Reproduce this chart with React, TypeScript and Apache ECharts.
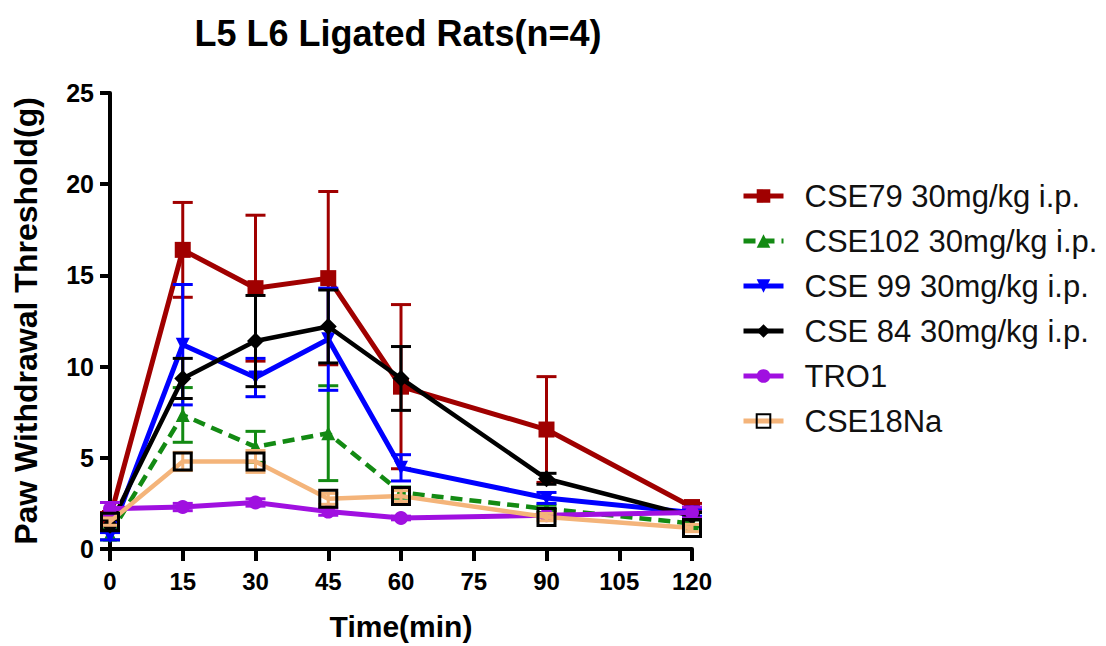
import React, { useEffect, useRef } from "react";
import * as echarts from "echarts";

const times = [0, 15, 30, 45, 60, 90, 120];
const xTicks = [0, 15, 30, 45, 60, 75, 90, 105, 120];
const yTicks = [0, 5, 10, 15, 20, 25];

const seriesNames = [
  "CSE79 30mg/kg i.p.",
  "CSE102 30mg/kg i.p.",
  "CSE 99 30mg/kg i.p.",
  "CSE 84 30mg/kg i.p.",
  "TRO1",
  "CSE18Na",
];

const cse79 = [1.7, 16.4, 14.3, 14.85, 8.9, 6.55, 2.3];
const cse79Sem = [0.3, 2.6, 4.0, 4.75, 4.5, 2.9, 0.2];
const cse102 = [0.8, 7.35, 5.6, 6.35, 3.1, 2.2, 1.4];
const cse102Sem = [0.3, 1.5, 0.85, 2.6, 0.3, 0.2, 0.2];
const cse99 = [0.7, 11.2, 9.4, 11.5, 4.45, 2.8, 2.0];
const cse99Sem = [0.2, 3.3, 1.05, 2.8, 0.72, 0.3, 0.2];
const cse84 = [1.3, 9.35, 11.4, 12.2, 9.35, 3.85, 1.8];
const cse84Sem = [0.3, 1.1, 2.5, 2.0, 1.75, 0.3, 0.2];
const tro1 = [2.2, 2.3, 2.55, 2.05, 1.7, 1.85, 2.0];
const tro1Sem = [0.35, 0.2, 0.2, 0.2, 0.1, 0.1, 0.3];
const cse18 = [1.5, 4.8, 4.8, 2.75, 2.9, 1.75, 1.15];
const cse18Sem = [0.2, 0.5, 0.6, 0.3, 0.3, 0.2, 0.2];

const FONT = '"Liberation Sans", Arial, sans-serif';

export default function App() {
  const ref = useRef<HTMLDivElement>(null);

  useEffect(() => {
    document.body.style.margin = "0";
    const chart = echarts.init(ref.current!, undefined, { renderer: "svg" });

    const defs = [
      { name: seriesNames[0], mean: cse79, sem: cse79Sem, color: "#A00000", symbol: "rect", size: 16, lw: 5, dash: "solid" as any, rotate: 0, fill: "#A00000", border: "#A00000", bw: 0 },
      { name: seriesNames[1], mean: cse102, sem: cse102Sem, color: "#138A13", symbol: "triangle", size: 14, lw: 4.5, dash: [12, 7], rotate: 0, fill: "#138A13", border: "#138A13", bw: 0 },
      { name: seriesNames[2], mean: cse99, sem: cse99Sem, color: "#0000FF", symbol: "triangle", size: 14, lw: 5, dash: "solid", rotate: 180, fill: "#0000FF", border: "#0000FF", bw: 0 },
      { name: seriesNames[3], mean: cse84, sem: cse84Sem, color: "#000000", symbol: "diamond", size: 17, lw: 4.5, dash: "solid", rotate: 0, fill: "#000000", border: "#000000", bw: 0 },
      { name: seriesNames[4], mean: tro1, sem: tro1Sem, color: "#A010E0", symbol: "circle", size: 14, lw: 5, dash: "solid", rotate: 0, fill: "#A010E0", border: "#A010E0", bw: 0 },
      { name: seriesNames[5], mean: cse18, sem: cse18Sem, color: "#F4B47A", symbol: "rect", size: 17, lw: 4.5, dash: "solid", rotate: 0, fill: "rgba(255,255,255,0)", border: "#000000", bw: 3 },
    ];

    const series: any[] = [];
    defs.forEach((d, i) => {
      series.push({
        name: d.name + " SEM",
        type: "custom",
        z: 2 + i * 2,
        silent: true,
        data: times.map((t, k) => [t, d.mean[k], d.sem[k]]),
        renderItem: (params: any, api: any) => {
          const x = api.value(0);
          const y = api.value(1);
          const e = api.value(2);
          const top = api.coord([x, y + e]);
          const bot = api.coord([x, y - e]);
          const cw = 10;
          const st = { stroke: d.color, lineWidth: 3 };
          return {
            type: "group",
            children: [
              { type: "line", shape: { x1: top[0], y1: top[1], x2: bot[0], y2: bot[1] }, style: st },
              { type: "line", shape: { x1: top[0] - cw, y1: top[1], x2: top[0] + cw, y2: top[1] }, style: st },
              { type: "line", shape: { x1: bot[0] - cw, y1: bot[1], x2: bot[0] + cw, y2: bot[1] }, style: st },
            ],
          };
        },
      });
      series.push({
        name: d.name,
        type: "line",
        z: 3 + i * 2,
        data: times.map((t, k) => [t, d.mean[k]]),
        symbol: d.symbol,
        symbolSize: d.size,
        symbolRotate: d.rotate,
        showAllSymbol: true,
        lineStyle: { color: d.color, width: d.lw, type: d.dash },
        itemStyle: { color: d.fill, borderColor: d.border, borderWidth: d.bw },
      });
    });

    chart.setOption({
      animation: false,
      backgroundColor: "#ffffff",
      textStyle: { fontFamily: FONT },
      title: {
        text: "L5 L6 Ligated Rats(n=4)",
        left: 398,
        top: 15,
        textAlign: "center",
        padding: 0,
        textStyle: { fontFamily: FONT, fontWeight: "bold", fontSize: 36, color: "#000" },
      },
      legend: {
        data: seriesNames,
        orient: "vertical",
        left: 736,
        top: 175,
        itemWidth: 40,
        itemHeight: 17,
        itemGap: 13,
        symbolRotate: "inherit",
        lineStyle: { width: 5 },
        textStyle: { fontFamily: FONT, fontSize: 31, color: "#111", lineHeight: 32, padding: [0, 0, 0, 16] },
      },
      grid: { left: 110, right: 414, top: 93, bottom: 92, containLabel: false },
      xAxis: {
        type: "value",
        min: xTicks[0],
        max: xTicks[xTicks.length - 1],
        interval: 15,
        name: "Time(min)",
        nameLocation: "middle",
        nameGap: 62,
        nameTextStyle: { fontFamily: FONT, fontWeight: "bold", fontSize: 30, color: "#000" },
        axisLine: { lineStyle: { color: "#000", width: 4 } },
        axisTick: { length: 12, lineStyle: { color: "#000", width: 4 } },
        axisLabel: { margin: 20, fontFamily: FONT, fontWeight: "bold", fontSize: 24, color: "#000" },
        splitLine: { show: false },
      },
      yAxis: {
        type: "value",
        min: yTicks[0],
        max: yTicks[yTicks.length - 1],
        interval: 5,
        name: "Paw Withdrawal Threshold(g)",
        nameLocation: "middle",
        nameRotate: 90,
        nameGap: 68,
        nameTextStyle: { fontFamily: FONT, fontWeight: "bold", fontSize: 32, color: "#000" },
        axisLine: { show: true, lineStyle: { color: "#000", width: 4 } },
        axisTick: { show: true, length: 10, lineStyle: { color: "#000", width: 4 } },
        axisLabel: { margin: 16, fontFamily: FONT, fontWeight: "bold", fontSize: 25, color: "#000" },
        splitLine: { show: false },
      },
      series,
    });

    return () => chart.dispose();
  }, []);

  return (
    <div
      ref={ref}
      style={{ position: "fixed", left: 0, top: 0, width: 1106, height: 646, background: "#fff" }}
    />
  );
}
